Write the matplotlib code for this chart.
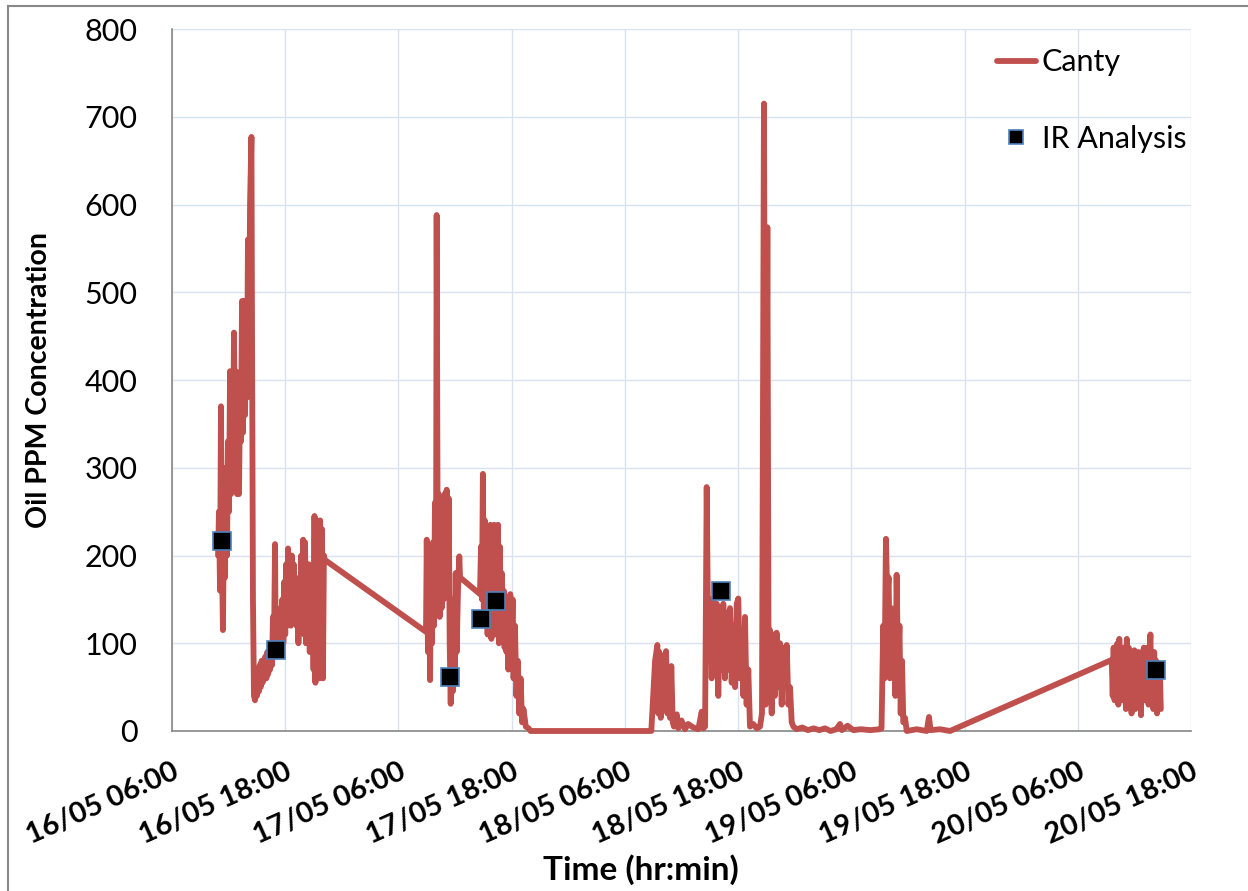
import pandas as pd
import matplotlib.pyplot as plt
import matplotlib.dates as mdates
from matplotlib.lines import Line2D

plt.rcParams["font.family"] = ["Lato", "DejaVu Sans"]

START = pd.Timestamp("2013-05-16 06:00")

# -----------------------------
# Canty readings (hours after 16/05 06:00, oil ppm)
# -----------------------------
day16_hours = [4.88, 4.98, 5.09, 5.19, 5.30, 5.40, 5.51, 5.62, 5.72, 5.83,
               5.93, 6.04, 6.15, 6.25, 6.36, 6.46, 6.57, 6.68, 6.78, 6.89,
               6.99, 7.10, 7.21, 7.31, 7.42, 7.53, 7.63, 7.74, 7.84, 7.95,
               8.05, 8.16, 8.27, 8.42, 8.48, 8.58, 8.69, 8.80,
               8.9, 9.0, 9.1, 9.2, 9.3, 9.4, 9.5, 9.6, 9.7, 9.8,
               9.9, 10.0, 10.1, 10.2, 10.3, 10.4, 10.5, 10.6, 10.7, 10.8,
               10.92, 11.0, 11.1, 11.2, 11.3, 11.4, 11.5, 11.6, 11.7, 11.8,
               11.9, 12.0, 12.1, 12.2, 12.3, 12.4, 12.5, 12.6, 12.7, 12.8,
               12.9, 13.0, 13.1, 13.2, 13.3, 13.4, 13.5, 13.6, 13.7, 13.8,
               13.9, 14.0, 14.1, 14.2, 14.3, 14.4, 14.5, 14.6, 14.7, 14.8,
               14.9, 15.0, 15.1, 15.2, 15.3, 15.4, 15.5, 15.6, 15.7, 15.8,
               15.9, 16.0, 16.1, 16.2]
day16_ppm = [200, 250, 160, 370, 190, 115, 240, 175, 300, 200,
             330, 250, 410, 270, 380, 280, 454, 300, 410, 270,
             400, 270, 380, 330, 490, 340, 490, 360, 480, 380,
             560, 420, 600, 677, 460, 150, 40, 35,
             60, 40, 70, 45, 75, 50, 80, 55, 75, 60,
             85, 60, 90, 65, 80, 70, 95, 75, 130, 85,
             213, 90, 140, 85, 120, 90, 130, 95, 150, 100,
             170, 110, 190, 120, 208, 130, 180, 120, 200, 130,
             190, 140, 175, 120, 160, 100, 170, 115, 200, 140,
             218, 110, 215, 100, 175, 120, 190, 90, 185, 100,
             180, 70, 245, 55, 240, 80, 200, 60, 240, 75,
             230, 60, 200, 195]

day17_hours = [26.92, 27.0, 27.13, 27.24, 27.35, 27.45, 27.56, 27.66, 27.77, 27.87,
               27.98, 28.05, 28.16, 28.27, 28.37, 28.48, 28.58, 28.69, 28.80, 28.90,
               29.01, 29.11, 29.22, 29.33, 29.43, 29.54, 29.64, 29.75, 29.86, 29.96,
               30.07, 30.17, 30.31, 30.45, 30.53, 32.64,
               32.75, 32.85, 32.95, 33.05, 33.15, 33.25, 33.35, 33.45, 33.55, 33.65,
               33.75, 33.85, 33.95, 34.05, 34.15, 34.25, 34.35, 34.45, 34.55, 34.65,
               34.75, 34.85, 34.95, 35.05, 35.15, 35.25, 35.35, 35.45, 35.55, 35.65,
               35.75, 35.85, 36.0, 36.1, 36.2, 36.35, 36.5, 36.65, 36.8, 36.95,
               37.1, 37.25, 37.5, 37.8, 38.0]
day17_ppm = [113, 218, 90, 200, 58, 210, 100, 215, 120, 260,
             150, 588, 200, 270, 130, 230, 140, 260, 150, 270,
             160, 275, 180, 265, 100, 31, 120, 45, 150, 70,
             180, 90, 160, 199, 175, 156,
             210, 150, 293, 140, 240, 125, 230, 110, 225, 130,
             235, 105, 220, 140, 235, 110, 200, 125, 235, 100,
             210, 120, 180, 130, 160, 95, 150, 90, 145, 70,
             130, 156, 100, 150, 60, 120, 40, 80, 20, 60,
             10, 25, 5, 3, 0]

day18_hours = [50.8, 51.2, 51.44, 51.54, 51.65, 51.8, 51.93, 52.08, 52.22, 52.36,
               52.5, 52.64, 52.78, 52.92, 53.07, 53.2, 53.5, 53.66, 54.0, 54.37,
               54.7, 55.25, 55.78, 56.14, 56.3, 56.5, 56.67, 56.85, 57.02, 57.2,
               57.38, 57.55, 57.73, 57.9, 58.08, 58.26, 58.43, 58.6, 58.78, 58.96,
               59.14, 59.32, 59.5, 59.68, 59.85, 60.02, 60.2, 60.38, 60.56, 60.73,
               60.9, 61.08, 61.26, 61.6, 61.97, 62.32, 62.53, 62.74, 62.92, 63.1,
               63.24, 63.38, 63.56, 63.73, 63.9, 64.08, 64.26, 64.44, 64.62, 64.79,
               64.97, 65.15, 65.33, 65.5, 65.68, 65.86, 66.2, 66.8, 67.4, 68.0,
               68.6, 69.2, 69.8, 70.4, 70.8, 71.0, 71.6, 72.2, 73.0, 74.0,
               75.0]
day18_ppm = [0, 80, 98, 20, 90, 15, 85, 30, 80, 91,
             20, 70, 15, 74, 10, 5, 19, 3, 12, 2,
             8, 4, 2, 22, 3, 5, 278, 80, 150, 60,
             148, 70, 145, 40, 140, 70, 145, 60, 135, 70,
             140, 55, 120, 50, 145, 151, 60, 110, 40, 130,
             30, 70, 5, 8, 3, 5, 20, 715, 30, 574,
             40, 115, 20, 110, 40, 112, 50, 100, 30, 95,
             50, 98, 30, 50, 10, 5, 2, 4, 1, 3,
             1, 3, 0, 2, 8, 1, 6, 1, 2, 1,
             2]

day19_hours = [75.2, 75.38, 75.52, 75.67, 75.81, 75.95, 76.1, 76.24, 76.38, 76.52,
               76.67, 76.8, 76.95, 77.1, 77.23, 77.37, 77.51, 77.69, 77.87, 78.93,
               79.99, 80.23, 80.4, 81.4, 82.46]
day19_ppm = [3, 120, 60, 219, 150, 175, 60, 140, 80, 110,
             40, 178, 70, 120, 20, 80, 10, 15, 0, 2,
             0, 16, 1, 2, 0]

day20_hours = [99.6, 99.7, 99.8, 99.9, 100.0, 100.1, 100.2, 100.3, 100.4, 100.5,
               100.6, 100.7, 100.8, 100.9, 101.0, 101.1, 101.2, 101.3, 101.4, 101.5,
               101.6, 101.7, 101.8, 101.9, 102.0, 102.1, 102.2, 102.3, 102.4, 102.5,
               102.6, 102.7, 102.8, 102.9, 103.0, 103.1, 103.2, 103.3, 103.4, 103.5,
               103.6, 103.7, 103.8, 103.9, 104.0, 104.1, 104.2, 104.3, 104.4, 104.5,
               104.6, 104.7, 104.8]
day20_ppm = [81, 40, 95, 35, 88, 45, 100, 30, 105, 50,
             90, 35, 95, 40, 85, 25, 105, 45, 95, 30,
             85, 20, 90, 40, 92, 25, 88, 35, 90, 30,
             85, 18, 90, 40, 95, 35, 88, 45, 95, 30,
             90, 110, 40, 85, 25, 90, 45, 80, 20, 75,
             30, 70, 25]

# IR analysis samples
ir_hours = [5.30, 11.02, 29.5, 32.8, 34.3, 58.2, 104.3]
ir_ppm = [216, 92, 61, 128, 148, 159, 69]

canty_hours = day16_hours + day17_hours + day18_hours + day19_hours + day20_hours
canty_ppm = day16_ppm + day17_ppm + day18_ppm + day19_ppm + day20_ppm

canty_time = START + pd.to_timedelta(canty_hours, unit="h")
ir_time = START + pd.to_timedelta(ir_hours, unit="h")


fig = plt.figure(figsize=(12.48, 8.91), dpi=100)
ax = fig.add_axes([172 / 1248, 1 - 731 / 891, 1019 / 1248, 702 / 891])

ax.plot(canty_time, canty_ppm, color="#C0504D", lw=4.2, label="Canty",
        solid_joinstyle="round", solid_capstyle="round", clip_on=False, zorder=3)
ax.plot(ir_time, ir_ppm, ls="none", marker="s", ms=13, mfc="black",
        mec="#4F81BD", mew=1.2, label="IR Analysis", zorder=4)

ticks = pd.date_range(START, periods=10, freq="12h")
ax.set_xlim(ticks[0], ticks[-1])
ax.set_xticks(ticks)
ax.xaxis.set_major_formatter(mdates.DateFormatter("%d/%m %H:%M"))
ax.set_ylim(0, 800)
ax.set_yticks(range(0, 801, 100))

ax.grid(True, color="#D9E2F0", lw=1)
ax.set_axisbelow(True)
for side in ["top", "right"]:
    ax.spines[side].set_visible(False)
for side in ["left", "bottom"]:
    ax.spines[side].set_color("#868686")
    ax.spines[side].set_linewidth(1.2)

ax.tick_params(axis="y", length=0, pad=25, labelsize=22)
ax.tick_params(axis="x", length=0, pad=20, labelsize=21)
plt.setp(ax.get_xticklabels(), rotation=24, ha="right", rotation_mode="anchor",
         fontweight="bold")

ax.set_ylabel("Oil PPM Concentration", fontsize=20.5, fontweight="bold")
ax.yaxis.set_label_coords(-0.118, 0.5)
ax.set_xlabel("Time (hr:min)", fontsize=24, fontweight="bold", va="top")
ax.xaxis.set_label_coords(0.46, -0.176)

legend = ax.legend(loc="upper left", bbox_to_anchor=(0.798, 0.99), frameon=False,
                   fontsize=22, handlelength=1.25, handletextpad=0.2,
                   labelspacing=1.6, borderaxespad=0, markerscale=0.8)

# outer chart border (left and top edges are visible in the original)
fig.add_artist(Line2D([8 / 1248, 8 / 1248], [0, 1 - 6 / 891],
                      transform=fig.transFigure, color="#888888", lw=1.5))
fig.add_artist(Line2D([8 / 1248, 1], [1 - 6 / 891, 1 - 6 / 891],
                      transform=fig.transFigure, color="#888888", lw=1.5))

fig.savefig("out.png", dpi=100)
plt.close(fig)
